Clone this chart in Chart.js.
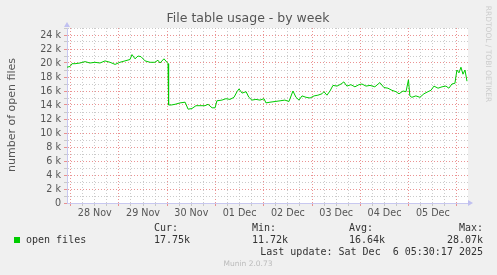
<!DOCTYPE html>
<html>
<head>
<meta charset="utf-8">
<script src="https://cdn.jsdelivr.net/npm/chart.js@4.4.1/dist/chart.umd.min.js"></script>
<style>
    html, body { margin: 0; padding: 0; background: #F0F0F0; }
    #wrap { width: 497px; height: 275px; position: relative; }
</style>
</head>
<body>
<div id="wrap"><canvas id="fileChart" width="497" height="275"></canvas></div>
<script>
// hours since 28 Nov 00:00
const hours = [
    -1.8, -0.3, 0.7, 2.2, 4.7, 7.2, 9.6, 12.1, 14.6, 17.1, 19.6, 22.1,
    24.5, 27.0, 29.5, 30.5, 32.0, 33.5, 35.0, 37.0, 39.5, 41.9, 43.4, 44.4, 46.4, 47.9,
    48.4, 48.7, 50.0, 51.9, 54.4, 56.9, 58.4, 60.3, 62.3, 64.3, 66.8, 68.3, 70.3, 71.8,
    72.7, 75.2, 77.2, 79.2, 81.2, 82.7, 83.7, 85.2, 87.2, 88.6, 90.1, 92.1, 94.1,
    96.1, 97.1, 99.1, 101.6, 104.1, 106.5, 108.5, 110.5, 112.0, 113.5, 115.0, 117.0, 119.0,
    121.0, 122.9, 124.9, 125.9, 127.4, 128.9, 130.4, 132.4, 134.4, 135.8, 137.3, 139.3, 141.3,
    143.3, 144.8, 146.8, 148.8, 151.2, 153.7, 155.7, 157.7, 159.7, 161.7, 163.2, 165.2, 166.7,
    167.9, 168.6, 169.6, 171.6, 173.6, 175.6, 177.6, 179.1, 180.6, 182.6, 184.6, 186.5, 188.0,
    189.5, 191.0, 192.0, 193.0, 194.0, 195.0, 196.0, 197.0
];
const openFiles = [
    19400, 19500, 19900, 19900, 20000, 20200, 20000, 20100, 20000, 20300, 20100, 19800,
    20100, 20300, 20500, 21200, 20600, 21000, 20900, 20300, 20100, 20100, 20400, 20000, 20600, 20100,
    19900, 14000, 14000, 14100, 14300, 14400, 13400, 13500, 13900, 13900, 13900, 14100, 13600, 13600,
    14600, 14700, 14900, 14800, 15100, 15900, 16300, 15700, 15900, 15100, 14700, 14800, 14700,
    14900, 14300, 14400, 14500, 14600, 14700, 14500, 16000, 15100, 14700, 15300, 15100, 15000,
    15300, 15400, 15600, 15900, 15400, 16000, 16800, 16700, 17000, 17300, 16700, 16900, 16600,
    16900, 17000, 16700, 16800, 16600, 17200, 16500, 16400, 16100, 15900, 15600, 16000, 15900,
    17600, 15300, 15100, 15300, 15100, 15600, 15900, 16100, 16700, 16400, 16600, 16700, 16400,
    17000, 17100, 19000, 18600, 19400, 18400, 19000, 17400
];
const dayLabels = ["28 Nov", "29 Nov", "30 Nov", "01 Dec", "02 Dec", "03 Dec", "04 Dec", "05 Dec"];
const statNames = ["Cur:", "Min:", "Avg:", "Max:"];
const statValues = ["17.75k", "11.72k", "16.64k", "28.07k"];

const colors = {
    line: "#00CC00",
    major: "rgba(230,120,120,0.8)",
    minor: "rgba(190,190,190,0.8)",
    axis: "#C8C8F0",
    text: "#555555",
    legend: "#333333",
};

// draws the white plot area, titles, arrows and munin style legend
const muninDecor = {
    id: "muninDecor",
    beforeDraw(chart) {
        const { ctx, chartArea: a } = chart;
        ctx.save();
        ctx.fillStyle = "#FFFFFF";
        ctx.fillRect(a.left, a.top, a.right - a.left, a.bottom - a.top);
        ctx.restore();
    },
    afterDraw(chart) {
        const { ctx, chartArea: a } = chart;
        ctx.save();
        ctx.fillStyle = colors.text;
        ctx.textAlign = "center";
        ctx.textBaseline = "middle";
        ctx.font = "12.5px 'DejaVu Sans'";
        ctx.fillText("File table usage - by week", 248, 19);

        ctx.save();
        ctx.translate(12, 115);
        ctx.rotate(-Math.PI / 2);
        ctx.font = "11px 'DejaVu Sans'";
        ctx.fillText("number of open files", 0, 0);
        ctx.restore();

        ctx.save();
        ctx.translate(488, 54);
        ctx.rotate(Math.PI / 2);
        ctx.fillStyle = "#CCCCCC";
        ctx.font = "7.5px 'DejaVu Sans'";
        ctx.fillText("RRDTOOL / TOBI OETIKER", 0, 0);
        ctx.restore();

        // axis arrows
        ctx.fillStyle = "#C0C0F0";
        ctx.beginPath();
        ctx.moveTo(a.left - 3, a.top - 1);
        ctx.lineTo(a.left + 3, a.top - 1);
        ctx.lineTo(a.left, a.top - 6);
        ctx.fill();
        ctx.beginPath();
        ctx.moveTo(a.right, a.bottom - 3);
        ctx.lineTo(a.right, a.bottom + 3);
        ctx.lineTo(a.right + 5, a.bottom);
        ctx.fill();

        // legend
        ctx.fillStyle = colors.line;
        ctx.fillRect(14, 237, 6, 6);
        ctx.fillStyle = colors.legend;
        ctx.font = "10px 'DejaVu Sans Mono'";
        ctx.textAlign = "left";
        ctx.fillText("open files", 26, 240);
        const xs = [154, 252, 349];
        for (let i = 0; i < 3; i++) {
            ctx.fillText(statNames[i], xs[i], 228);
            ctx.fillText(statValues[i], xs[i], 240);
        }
        ctx.textAlign = "right";
        ctx.fillText(statNames[3], 483, 228);
        ctx.fillText(statValues[3], 483, 240);
        ctx.fillText("Last update: Sat Dec  6 05:30:17 2025", 483, 252);

        ctx.textAlign = "center";
        ctx.fillStyle = "#BBBBBB";
        ctx.font = "7.5px 'DejaVu Sans'";
        ctx.fillText("Munin 2.0.73", 248, 264);
        ctx.restore();
    },
};

const ctx = document.getElementById("fileChart").getContext("2d");
new Chart(ctx, {
    type: "line",
    data: {
        datasets: [
            {
                label: "open files",
                data: hours.map((h, i) => ({ x: h, y: openFiles[i] })),
                borderColor: colors.line,
                borderWidth: 1,
                pointRadius: 0,
                tension: 0,
                fill: false,
            },
        ],
    },
    options: {
        responsive: false,
        animation: false,
        events: [],
        layout: { padding: { left: 0, top: 28, right: 29, bottom: 0 } },
        plugins: {
            legend: { display: false },
            title: { display: false },
            tooltip: { enabled: false },
        },
        scales: {
            x: {
                type: "linear",
                min: -1.8,
                max: 197.5,
                afterBuildTicks(scale) {
                    const t = [];
                    for (let h = 0; h <= 192; h += 6) t.push({ value: h });
                    scale.ticks = t;
                },
                afterFit(scale) {
                    scale.height = 72;
                },
                ticks: {
                    autoSkip: false,
                    maxRotation: 0,
                    padding: 2,
                    color: colors.text,
                    font: { family: "DejaVu Sans", size: 9.6 },
                    callback: (v) => (v % 24 === 12 ? dayLabels[(v - 12) / 24] : ""),
                },
                grid: {
                    color: (c) => (c.tick && c.tick.value % 24 === 0 ? colors.major : colors.minor),
                    tickLength: 3,
                    lineWidth: 1,
                },
                border: { display: true, color: colors.axis, dash: [1, 2] },
            },
            y: {
                min: 0,
                max: 25000,
                afterFit(scale) {
                    scale.width = 67;
                },
                ticks: {
                    stepSize: 1000,
                    autoSkip: false,
                    padding: 3,
                    color: colors.text,
                    font: { family: "DejaVu Sans", size: 9.6 },
                    callback: (v) => (v % 2000 === 0 ? (v === 0 ? "0" : v / 1000 + " k") : ""),
                },
                grid: {
                    color: (c) => (c.tick && c.tick.value % 2000 === 0 ? colors.major : colors.minor),
                    tickLength: 3,
                    lineWidth: 1,
                },
                border: { display: true, color: colors.axis, dash: [1, 2] },
            },
        },
    },
    plugins: [muninDecor],
});
</script>
</body>
</html>
